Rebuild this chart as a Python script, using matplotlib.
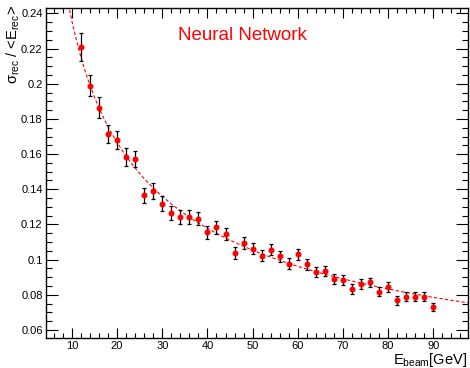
import numpy as np
import matplotlib
matplotlib.use('Agg')
import matplotlib.pyplot as plt
from matplotlib.ticker import MultipleLocator, FuncFormatter

plt.rcParams['font.family'] = ['Liberation Sans', 'DejaVu Sans']
plt.rcParams['mathtext.fontset'] = 'custom'
plt.rcParams['mathtext.rm'] = 'Liberation Sans'
plt.rcParams['mathtext.it'] = 'Liberation Sans:italic'
plt.rcParams['mathtext.default'] = 'regular'

# ---- data ----
e_beam = [12, 14, 16, 18, 20, 22, 24, 26, 28, 30,
          32, 34, 36, 38, 40, 42, 44, 46, 48, 50,
          52, 54, 56, 58, 60, 62, 64, 66, 68, 70,
          72, 74, 76, 78, 80, 82, 84, 86, 88, 90]
resolution = [0.2210, 0.1990, 0.1863, 0.1714, 0.1682, 0.1583, 0.1571, 0.1366, 0.1390, 0.1318,
              0.1267, 0.1240, 0.1244, 0.1233, 0.1156, 0.1183, 0.1143, 0.1038, 0.1093, 0.1063,
              0.1023, 0.1057, 0.1019, 0.0977, 0.1029, 0.0973, 0.0928, 0.0937, 0.0891, 0.0886,
              0.0834, 0.0861, 0.0870, 0.0817, 0.0844, 0.0768, 0.0790, 0.0789, 0.0790, 0.0730]
res_err = [0.0078, 0.0059, 0.0060, 0.0050, 0.0052, 0.0050, 0.0046, 0.0043, 0.0044, 0.0041,
           0.0040, 0.0040, 0.0039, 0.0038, 0.0037, 0.0035, 0.0034, 0.0033, 0.0033, 0.0032,
           0.0031, 0.0031, 0.0030, 0.0030, 0.0032, 0.0030, 0.0029, 0.0029, 0.0028, 0.0028,
           0.0027, 0.0027, 0.0027, 0.0026, 0.0027, 0.0025, 0.0025, 0.0025, 0.0025, 0.0024]
# fit: sigma/E = a / sqrt(E) + c
fit_a = 0.745
fit_c = 0.0

title_text = 'Neural Network'
x_label = r'E$_{beam}$[GeV]'
y_label = r'$\sigma_{rec}$ / <E$_{rec}$>'

# ---- figure ----
W, H = 470, 368
fig = plt.figure(figsize=(W / 100, H / 100), dpi=100)
L, R, T, B = 46, 468, 7.5, 338
ax = fig.add_axes([L / W, 1 - B / H, (R - L) / W, (B - T) / H])
xmin, xmax = 4.25, 97.7
ax.set_xlim(xmin, xmax)
ax.set_ylim(0.0554, 0.2434)

xs = np.linspace(xmin, xmax, 500)
ax.plot(xs, fit_a / np.sqrt(xs) + fit_c, color='red', lw=0.8,
        ls=(0, (3, 2)), zorder=2)
ax.errorbar(e_beam, resolution, yerr=res_err, fmt='o', color='red', ms=3.3,
            mec='red', ecolor='black', elinewidth=0.9, capsize=1.7,
            capthick=0.9, zorder=3)

ax.xaxis.set_major_locator(MultipleLocator(10))
ax.xaxis.set_minor_locator(MultipleLocator(2))
ax.yaxis.set_major_locator(MultipleLocator(0.02))
ax.yaxis.set_minor_locator(MultipleLocator(0.005))
fmt = FuncFormatter(lambda v, p: f'{round(v, 5):g}')
ax.xaxis.set_major_formatter(fmt)
ax.yaxis.set_major_formatter(fmt)
ax.tick_params(which='both', direction='in', top=True, right=True,
               labelsize=8, width=0.8, color='black')
ax.tick_params(axis='x', which='major', length=7.2, pad=2.5)
ax.tick_params(axis='x', which='minor', length=3.6)
ax.tick_params(axis='y', which='major', length=8.6, pad=2.4)
ax.tick_params(axis='y', which='minor', length=4.3)
for s in ax.spines.values():
    s.set_linewidth(1.0)
    s.set_color('black')

fig.text(177.7 / W, 1 - 40 / H, title_text, color='red', fontsize=13.5,
         ha='left', va='baseline')
fig.text(13 / W, 1 - 5 / H, y_label, rotation=90, ha='center', va='top',
         fontsize=10.5)
fig.text(467 / W, 1 - 364 / H, x_label, ha='right', va='baseline',
         fontsize=10.5)

fig.savefig('out.png', dpi=100)
